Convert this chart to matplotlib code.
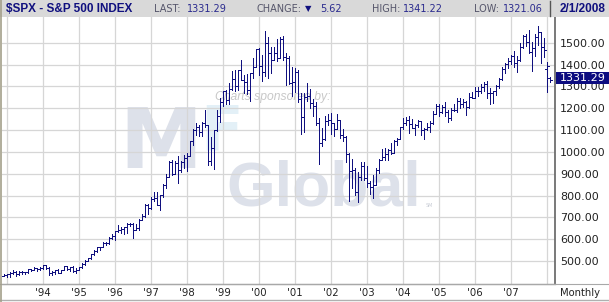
import numpy as np
import matplotlib
matplotlib.use("Agg")
import matplotlib.pyplot as plt
from matplotlib.patches import Rectangle

# monthly OHLC, Dec 1992 .. Feb 2008
opens = [431.4,
    435.7, 438.8, 443.4, 451.7, 440.2, 450.2, 450.5, 448.1, 463.6, 458.9, 467.8, 461.8,
    466.5, 481.6, 467.1, 445.8, 450.9, 456.5, 444.3, 458.3, 475.5, 462.7, 472.4, 453.7,
    459.3, 470.4, 487.4, 500.7, 514.7, 533.4, 544.8, 562.1, 561.9, 584.4, 581.5, 605.4,
    615.9, 636.0, 640.4, 645.5, 654.2, 669.1, 670.6, 640.0, 652.0, 687.3, 705.3, 757.0,
    740.7, 786.2, 790.8, 757.1, 801.3, 848.3, 885.1, 954.3, 899.5, 947.3, 914.6, 955.4,
    970.4, 980.3, 1049.3, 1101.8, 1111.8, 1090.8, 1133.8, 1120.7, 957.3, 1017.0, 1098.7, 1163.6,
    1229.2, 1279.6, 1238.3, 1286.4, 1335.2, 1301.8, 1372.7, 1328.7, 1320.4, 1282.7, 1362.9, 1388.9,
    1469.3, 1394.5, 1366.4, 1498.6, 1452.4, 1420.6, 1454.6, 1430.8, 1517.7, 1436.5, 1429.4, 1315.0,
    1320.3, 1366.0, 1239.9, 1160.3, 1249.5, 1255.8, 1224.4, 1211.2, 1133.6, 1040.9, 1059.8, 1139.5,
    1148.1, 1130.2, 1106.7, 1147.4, 1076.9, 1067.1, 989.8, 911.6, 916.1, 815.3, 885.8, 936.3,
    879.8, 855.7, 841.2, 848.2, 916.9, 963.6, 974.5, 990.3, 1008.0, 996.0, 1050.7, 1058.2,
    1111.9, 1131.1, 1144.9, 1126.2, 1107.3, 1120.7, 1140.8, 1101.7, 1104.2, 1114.6, 1130.2, 1173.8,
    1211.9, 1181.3, 1203.6, 1180.6, 1156.9, 1191.5, 1191.3, 1234.2, 1220.3, 1228.8, 1207.0, 1249.5,
    1248.3, 1280.1, 1280.7, 1294.8, 1310.6, 1270.1, 1270.2, 1276.7, 1303.8, 1335.9, 1377.9, 1400.6,
    1418.3, 1438.2, 1406.8, 1420.9, 1482.4, 1530.6, 1503.4, 1455.3, 1474.0, 1526.8, 1549.4, 1481.1,
    1380.0, 1336.0]
highs = [441.3,
    442.0, 449.6, 456.9, 452.0, 455.6, 453.5, 451.0, 464.0, 463.6, 471.0, 469.2, 471.0,
    482.9, 483.0, 471.1, 453.0, 457.6, 462.1, 459.3, 477.1, 476.0, 474.2, 474.8, 466.3,
    472.9, 489.2, 504.0, 515.0, 533.4, 551.1, 563.8, 564.5, 586.8, 588.6, 609.0, 622.9,
    636.2, 664.2, 656.0, 656.7, 673.3, 673.3, 675.9, 669.9, 690.9, 714.1, 762.1, 761.8,
    794.7, 817.4, 814.9, 804.1, 851.9, 899.0, 957.7, 961.6, 960.3, 983.1, 959.1, 986.3,
    992.7, 1051.0, 1105.7, 1130.5, 1123.0, 1138.5, 1190.6, 1121.3, 1066.1, 1100.6, 1193.2, 1244.9,
    1280.4, 1282.8, 1316.6, 1368.6, 1375.9, 1376.4, 1420.3, 1354.2, 1356.8, 1363.1, 1428.3, 1473.1,
    1478.0, 1444.6, 1552.9, 1527.2, 1481.5, 1480.8, 1517.3, 1525.2, 1530.1, 1454.8, 1438.5, 1389.1,
    1383.4, 1376.4, 1267.4, 1269.3, 1316.0, 1286.6, 1239.8, 1226.3, 1155.4, 1110.6, 1163.4, 1173.6,
    1176.6, 1130.2, 1173.0, 1147.8, 1106.6, 1070.5, 994.5, 965.0, 924.0, 907.4, 951.6, 954.3,
    935.1, 864.6, 895.9, 924.2, 965.4, 1015.3, 1015.4, 1011.0, 1040.3, 1053.8, 1063.7, 1112.6,
    1155.4, 1159.0, 1163.2, 1150.6, 1127.7, 1146.3, 1140.8, 1109.7, 1131.5, 1142.1, 1188.5, 1217.3,
    1217.8, 1212.4, 1229.1, 1191.9, 1199.6, 1219.6, 1245.2, 1245.9, 1243.1, 1233.3, 1270.6, 1275.8,
    1294.9, 1297.6, 1310.9, 1318.2, 1326.7, 1290.7, 1280.4, 1306.7, 1340.3, 1389.5, 1407.9, 1431.8,
    1441.6, 1461.6, 1438.9, 1498.0, 1535.6, 1540.6, 1555.9, 1503.9, 1538.7, 1576.1, 1545.8, 1523.6,
    1410.0, 1341.2]
lows = [429.0,
    427.9, 428.5, 440.9, 433.5, 437.0, 441.4, 441.4, 447.1, 452.4, 458.9, 454.4, 460.8,
    465.0, 465.3, 436.2, 435.9, 440.5, 442.9, 444.3, 457.3, 460.7, 454.9, 449.0, 443.3,
    457.2, 468.0, 481.5, 500.2, 509.8, 526.0, 542.4, 551.3, 561.9, 572.9, 578.6, 601.8,
    597.3, 634.2, 627.6, 624.1, 630.1, 661.1, 605.9, 639.8, 643.2, 686.6, 701.6, 716.7,
    737.0, 773.4, 756.1, 733.5, 793.2, 833.6, 884.5, 896.1, 899.5, 855.3, 906.2, 925.0,
    912.8, 980.3, 1032.1, 1076.7, 1074.4, 1074.4, 1114.3, 939.0, 939.9, 923.3, 1097.7, 1137.1,
    1212.3, 1220.7, 1221.0, 1282.6, 1277.3, 1281.4, 1328.7, 1268.7, 1263.9, 1233.7, 1338.0, 1387.4,
    1350.1, 1325.1, 1346.6, 1339.4, 1361.1, 1418.5, 1416.5, 1431.7, 1419.4, 1305.8, 1311.7, 1254.1,
    1274.6, 1228.4, 1081.2, 1091.9, 1232.0, 1203.0, 1165.5, 1124.9, 944.8, 1026.8, 1054.3, 1123.8,
    1081.7, 1074.4, 1106.7, 1063.5, 1048.0, 952.9, 775.7, 833.4, 800.6, 768.6, 872.2, 871.8,
    840.3, 806.3, 788.9, 847.9, 902.8, 963.6, 962.1, 960.8, 990.4, 996.0, 1031.2, 1058.2,
    1105.1, 1124.4, 1087.2, 1107.2, 1076.3, 1113.3, 1078.8, 1060.7, 1101.3, 1090.2, 1127.6, 1173.8,
    1163.8, 1180.0, 1163.7, 1136.2, 1146.2, 1188.3, 1183.6, 1201.1, 1205.4, 1168.2, 1201.1, 1246.6,
    1245.7, 1253.6, 1268.4, 1280.7, 1245.3, 1219.3, 1224.5, 1261.3, 1290.9, 1327.1, 1360.9, 1385.9,
    1403.8, 1389.4, 1363.9, 1416.4, 1476.7, 1484.2, 1454.3, 1370.6, 1439.3, 1489.6, 1406.1, 1435.7,
    1276.0, 1321.1]
closes = [435.7,
    438.8, 443.4, 451.7, 440.2, 450.2, 450.5, 448.1, 463.6, 458.9, 467.8, 461.8, 466.5,
    481.6, 467.1, 445.8, 450.9, 456.5, 444.3, 458.3, 475.5, 462.7, 472.4, 453.7, 459.3,
    470.4, 487.4, 500.7, 514.7, 533.4, 544.8, 562.1, 561.9, 584.4, 581.5, 605.4, 615.9,
    636.0, 640.4, 645.5, 654.2, 669.1, 670.6, 640.0, 652.0, 687.3, 705.3, 757.0, 740.7,
    786.2, 790.8, 757.1, 801.3, 848.3, 885.1, 954.3, 899.5, 947.3, 914.6, 955.4, 970.4,
    980.3, 1049.3, 1101.8, 1111.8, 1090.8, 1133.8, 1120.7, 957.3, 1017.0, 1098.7, 1163.6, 1229.2,
    1279.6, 1238.3, 1286.4, 1335.2, 1301.8, 1372.7, 1328.7, 1320.4, 1282.7, 1362.9, 1388.9, 1469.3,
    1394.5, 1366.4, 1498.6, 1452.4, 1420.6, 1454.6, 1430.8, 1517.7, 1436.5, 1429.4, 1315.0, 1320.3,
    1366.0, 1239.9, 1160.3, 1249.5, 1255.8, 1224.4, 1211.2, 1133.6, 1040.9, 1059.8, 1139.5, 1148.1,
    1130.2, 1106.7, 1147.4, 1076.9, 1067.1, 989.8, 911.6, 916.1, 815.3, 885.8, 936.3, 879.8,
    855.7, 841.2, 848.2, 916.9, 963.6, 974.5, 990.3, 1008.0, 996.0, 1050.7, 1058.2, 1111.9,
    1131.1, 1144.9, 1126.2, 1107.3, 1120.7, 1140.8, 1101.7, 1104.2, 1114.6, 1130.2, 1173.8, 1211.9,
    1181.3, 1203.6, 1180.6, 1156.9, 1191.5, 1191.3, 1234.2, 1220.3, 1228.8, 1207.0, 1249.5, 1248.3,
    1280.1, 1280.7, 1294.8, 1310.6, 1270.1, 1270.2, 1276.7, 1303.8, 1335.9, 1377.9, 1400.6, 1418.3,
    1438.2, 1406.8, 1420.9, 1482.4, 1530.6, 1503.4, 1455.3, 1474.0, 1526.8, 1549.4, 1481.1, 1468.4,
    1393.0, 1331.29]

year_ticks = list(range(1993, 2009))
year_labels = [''] + ["'%02d" % (y % 100) for y in range(1994, 2008)] + ['']
price_ticks = [500, 600, 700, 800, 900, 1000, 1100, 1200, 1300, 1400, 1500]

W, H = 609, 302
navy = '#10107f'

def fx(x):
    return x / W

def fy(y):
    return 1 - y / H

fig = plt.figure(figsize=(W / 100, H / 100), dpi=100)
fig.patch.set_facecolor('white')

# plot area: x 1.5..555 px, y 17..284 px
ax = fig.add_axes([fx(1.5), fy(284), (555 - 1.5) / W, (284 - 17) / H])

t = 1992 + 11 / 12 + np.arange(len(closes)) / 12
d = 1.8 / 36.04
bar_kw = dict(colors=navy, linewidth=0.72, antialiased=False, zorder=3)
ax.vlines(t, lows, highs, **bar_kw)
ax.hlines(opens, t - d, t, **bar_kw)
ax.hlines(closes, t, t + d, **bar_kw)

ax.set_xlim(1992.8585, 2008.2163)
ax.set_ylim(394.6, 500 + (261 - 17) / 0.2183)

ax.set_xticks(year_ticks)
ax.set_xticklabels(year_labels, fontsize=7.3, color='#222222')
ax.yaxis.tick_right()
ax.set_yticks(price_ticks)
ax.set_yticklabels(['%.2f' % v for v in price_ticks], fontsize=8, color='#222222')
ax.tick_params(axis='both', length=0)
ax.tick_params(axis='y', pad=3.6)
ax.tick_params(axis='x', pad=3.0)
ax.grid(True, color='#d6d6d6', linewidth=0.9, zorder=1)
ax.set_axisbelow(True)
for s in ['top', 'left']:
    ax.spines[s].set_visible(False)
ax.spines['right'].set_color('#6e6e6e')
ax.spines['right'].set_linewidth(1.3)
ax.spines['bottom'].set_color('#a8a8a8')
ax.spines['bottom'].set_linewidth(1.0)

# watermark behind the grid
wm = '#dde1ea'
ax.text(fx(119), fy(168), 'M', transform=fig.transFigure, fontsize=60, fontweight='bold',
        color=wm, va='baseline', ha='left', zorder=0.5, family='DejaVu Sans')
ax.text(fx(200), fy(150), 'F', transform=fig.transFigure, fontsize=45, fontweight='bold',
        color='#e3f0f7', va='baseline', ha='left', zorder=0.5, family='DejaVu Sans')
ax.text(fx(226), fy(206), 'Global', transform=fig.transFigure, fontsize=45, fontweight='bold',
        color=wm, va='baseline', ha='left', zorder=0.5, family='Liberation Sans')
ax.text(fx(426), fy(207), 'SM', transform=fig.transFigure, fontsize=3.5,
        color='#c9cdd6', va='baseline', ha='left', zorder=0.5)
ax.text(fx(215), fy(97), 'Charts sponsored by:', transform=fig.transFigure, fontsize=8.7,
        style='italic', color='#c8c8c8', va='center', ha='left', zorder=0.6,
        family='Liberation Sans')

# last price box on the right
fig.patches.append(Rectangle((fx(556), fy(84)), (609 - 556) / W, 11.5 / H,
                             transform=fig.transFigure, facecolor='#0c0c80',
                             edgecolor='none', zorder=5))
fig.text(fx(560), fy(78.3), '1331.29', fontsize=8, color='white', va='center',
         ha='left', zorder=6)
fig.text(fx(560), fy(292.5), 'Monthly', fontsize=7.2, color='#222222', va='center', ha='left')

# header band
fig.patches.append(Rectangle((0, fy(17)), 1, 17 / H, transform=fig.transFigure,
                             facecolor='#d9d9d9', edgecolor='none', zorder=4))
fig.text(fx(6), fy(9), '$SPX - S&P 500 INDEX', fontsize=8.5, fontweight='bold',
         family='Liberation Sans', color=navy, va='center', ha='left', zorder=6)
grey = '#55556a'
blue = '#2a2a8e'
hdr = [(153.5, 'LAST:', grey), (186.5, '1331.29', blue),
       (256.5, 'CHANGE:', grey), (320, '5.62', blue),
       (372, 'HIGH:', grey), (403, '1341.22', blue),
       (474, 'LOW:', grey), (503, '1321.06', blue)]
for x, s, c in hdr:
    fig.text(fx(x), fy(9), s, fontsize=7, color=c, va='center', ha='left', zorder=6)
fig.text(fx(305), fy(8.5), '\u25bc', fontsize=6, color=navy, va='center', ha='left', zorder=6)
fig.lines.append(plt.Line2D([fx(549.5), fx(549.5)], [fy(1), fy(16)], transform=fig.transFigure,
                            color='#555555', linewidth=1.0, zorder=6))
fig.text(fx(560), fy(9), '2/1/2008', fontsize=8.5, fontweight='bold', family='Liberation Sans',
         color=navy, va='center', ha='left', zorder=6)

# frame lines
fig.lines.append(plt.Line2D([fx(0.8), fx(0.8)], [0, 1], transform=fig.transFigure,
                            color='#a39f8a', linewidth=1.2, zorder=7))
fig.lines.append(plt.Line2D([0, 1], [fy(284), fy(284)], transform=fig.transFigure,
                            color='#a8a8a8', linewidth=0.8, zorder=2))
fig.lines.append(plt.Line2D([0, 1], [fy(300), fy(300)], transform=fig.transFigure,
                            color='#b0b0b0', linewidth=1.0, zorder=2))

fig.savefig('out.png', dpi=100)
